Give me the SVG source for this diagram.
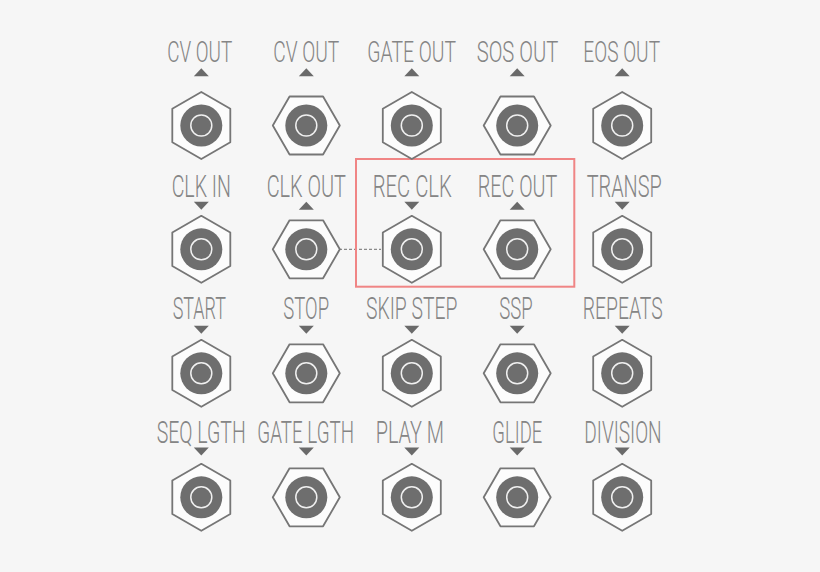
<svg xmlns="http://www.w3.org/2000/svg" width="820" height="572" viewBox="0 0 820 572">
<style>
.bg{fill:#f6f6f6}
.hex{fill:#fcfcfc;stroke:#767676;stroke-width:1.8;stroke-linejoin:round}
.core{fill:#6e6e6e}
.ring{fill:none;stroke:#f0f0f0;stroke-width:1.5}
.lbl{font-family:Roboto,"Liberation Sans",sans-serif;font-weight:300;font-size:31px;fill:#858585;text-anchor:middle}
.r1{font-size:29px}
.arr{fill:#6a6a6a}
.sel{fill:none;stroke:#f08585;stroke-width:2}
.dash{stroke:#707070;stroke-width:1;stroke-dasharray:3 2;fill:none}
</style>
<defs>
<g id="jackP">
<polygon class="hex" points="0,-33.5 29,-16.75 29,16.75 0,33.5 -29,16.75 -29,-16.75"/>
<circle class="core" r="21"/>
<circle class="ring" r="10.5"/>
</g>
<g id="jackF">
<polygon class="hex" points="-33.5,0 -16.75,-29 16.75,-29 33.5,0 16.75,29 -16.75,29"/>
<circle class="core" r="21"/>
<circle class="ring" r="10.5"/>
</g>
<polygon id="up" class="arr" points="0,-4 7.5,4 -7.5,4"/>
<polygon id="down" class="arr" points="-7.5,-4 7.5,-4 0,4"/>
</defs>
<rect class="bg" width="820" height="572"/>

<g id="connectors">
<line class="dash" x1="339" y1="249.3" x2="381" y2="249.3"/>
</g>

<rect id="highlight" class="sel" x="356" y="159" width="218.3" height="127.7"/>

<!-- Row 1 -->
<g id="cv-out-1">
<text class="lbl r1" transform="translate(199.8 62.3) scale(0.62 1)" textLength="104.8" lengthAdjust="spacingAndGlyphs">CV OUT</text>
<use href="#up" x="201.3" y="72.3"/>
<use href="#jackP" x="201.3" y="125.5"/>
</g>
<g id="cv-out-2">
<text class="lbl r1" transform="translate(306.3 62.3) scale(0.62 1)" textLength="106.5" lengthAdjust="spacingAndGlyphs">CV OUT</text>
<use href="#up" x="306.3" y="72.3"/>
<use href="#jackF" x="306.3" y="125.5"/>
</g>
<g id="gate-out">
<text class="lbl r1" transform="translate(411.7 62.3) scale(0.62 1)" textLength="143.1" lengthAdjust="spacingAndGlyphs">GATE OUT</text>
<use href="#up" x="411.8" y="72.3"/>
<use href="#jackP" x="411.8" y="125.5"/>
</g>
<g id="sos-out">
<text class="lbl r1" transform="translate(517.5 62.3) scale(0.62 1)" textLength="131.6" lengthAdjust="spacingAndGlyphs">SOS OUT</text>
<use href="#up" x="517.2" y="72.3"/>
<use href="#jackF" x="517.2" y="125.5"/>
</g>
<g id="eos-out">
<text class="lbl r1" transform="translate(621.7 62.3) scale(0.62 1)" textLength="123.7" lengthAdjust="spacingAndGlyphs">EOS OUT</text>
<use href="#up" x="622.2" y="72.3"/>
<use href="#jackP" x="622.2" y="125.5"/>
</g>

<!-- Row 2 -->
<g id="clk-in">
<text class="lbl" transform="translate(201.3 196.5) scale(0.62 1)" textLength="95.6" lengthAdjust="spacingAndGlyphs">CLK IN</text>
<use href="#down" x="201.3" y="205.8"/>
<use href="#jackP" x="201.3" y="249.3"/>
</g>
<g id="clk-out">
<text class="lbl" transform="translate(306.3 196.5) scale(0.62 1)" textLength="127.9" lengthAdjust="spacingAndGlyphs">CLK OUT</text>
<use href="#up" x="306.3" y="205.8"/>
<use href="#jackF" x="306.3" y="249.3"/>
</g>
<g id="rec-clk">
<text class="lbl" transform="translate(412.2 196.5) scale(0.62 1)" textLength="127.4" lengthAdjust="spacingAndGlyphs">REC CLK</text>
<use href="#down" x="411.8" y="205.8"/>
<use href="#jackP" x="411.8" y="249.3"/>
</g>
<g id="rec-out">
<text class="lbl" transform="translate(517.5 196.5) scale(0.62 1)" textLength="128.4" lengthAdjust="spacingAndGlyphs">REC OUT</text>
<use href="#up" x="517.2" y="205.8"/>
<use href="#jackF" x="517.2" y="249.3"/>
</g>
<g id="transp">
<text class="lbl" transform="translate(624.2 196.5) scale(0.62 1)" textLength="121" lengthAdjust="spacingAndGlyphs">TRANSP</text>
<use href="#down" x="622.2" y="205.8"/>
<use href="#jackP" x="622.2" y="249.3"/>
</g>

<!-- Row 3 -->
<g id="start">
<text class="lbl" transform="translate(199.3 319.3) scale(0.62 1)" textLength="86" lengthAdjust="spacingAndGlyphs">START</text>
<use href="#down" x="201.3" y="329.7"/>
<use href="#jackP" x="201.3" y="373.3"/>
</g>
<g id="stop">
<text class="lbl" transform="translate(306.2 319.3) scale(0.62 1)" textLength="73.7" lengthAdjust="spacingAndGlyphs">STOP</text>
<use href="#down" x="306.3" y="329.7"/>
<use href="#jackF" x="306.3" y="373.3"/>
</g>
<g id="skip-step">
<text class="lbl" transform="translate(411.7 319.3) scale(0.62 1)" textLength="147.3" lengthAdjust="spacingAndGlyphs">SKIP STEP</text>
<use href="#down" x="411.8" y="329.7"/>
<use href="#jackP" x="411.8" y="373.3"/>
</g>
<g id="ssp">
<text class="lbl" transform="translate(516 319.3) scale(0.62 1)" textLength="53.9" lengthAdjust="spacingAndGlyphs">SSP</text>
<use href="#down" x="517.2" y="329.7"/>
<use href="#jackF" x="517.2" y="373.3"/>
</g>
<g id="repeats">
<text class="lbl" transform="translate(622.7 319.3) scale(0.62 1)" textLength="129" lengthAdjust="spacingAndGlyphs">REPEATS</text>
<use href="#down" x="622.2" y="329.7"/>
<use href="#jackP" x="622.2" y="373.3"/>
</g>

<!-- Row 4 -->
<g id="seq-lgth">
<text class="lbl" transform="translate(201.2 443) scale(0.62 1)" textLength="143.5" lengthAdjust="spacingAndGlyphs">SEQ LGTH</text>
<use href="#down" x="201.3" y="451.5"/>
<use href="#jackP" x="201.3" y="497.3"/>
</g>
<g id="gate-lgth">
<text class="lbl" transform="translate(305.7 443) scale(0.62 1)" textLength="156" lengthAdjust="spacingAndGlyphs">GATE LGTH</text>
<use href="#down" x="306.3" y="451.5"/>
<use href="#jackF" x="306.3" y="497.3"/>
</g>
<g id="play-m">
<text class="lbl" transform="translate(409.8 443) scale(0.62 1)" textLength="110.2" lengthAdjust="spacingAndGlyphs">PLAY M</text>
<use href="#down" x="411.8" y="451.5"/>
<use href="#jackP" x="411.8" y="497.3"/>
</g>
<g id="glide">
<text class="lbl" transform="translate(517.3 443) scale(0.62 1)" textLength="80.6" lengthAdjust="spacingAndGlyphs">GLIDE</text>
<use href="#down" x="517.2" y="451.5"/>
<use href="#jackF" x="517.2" y="497.3"/>
</g>
<g id="division">
<text class="lbl" transform="translate(623 443) scale(0.62 1)" textLength="124.8" lengthAdjust="spacingAndGlyphs">DIVISION</text>
<use href="#down" x="622.2" y="451.5"/>
<use href="#jackP" x="622.2" y="497.3"/>
</g>
</svg>
